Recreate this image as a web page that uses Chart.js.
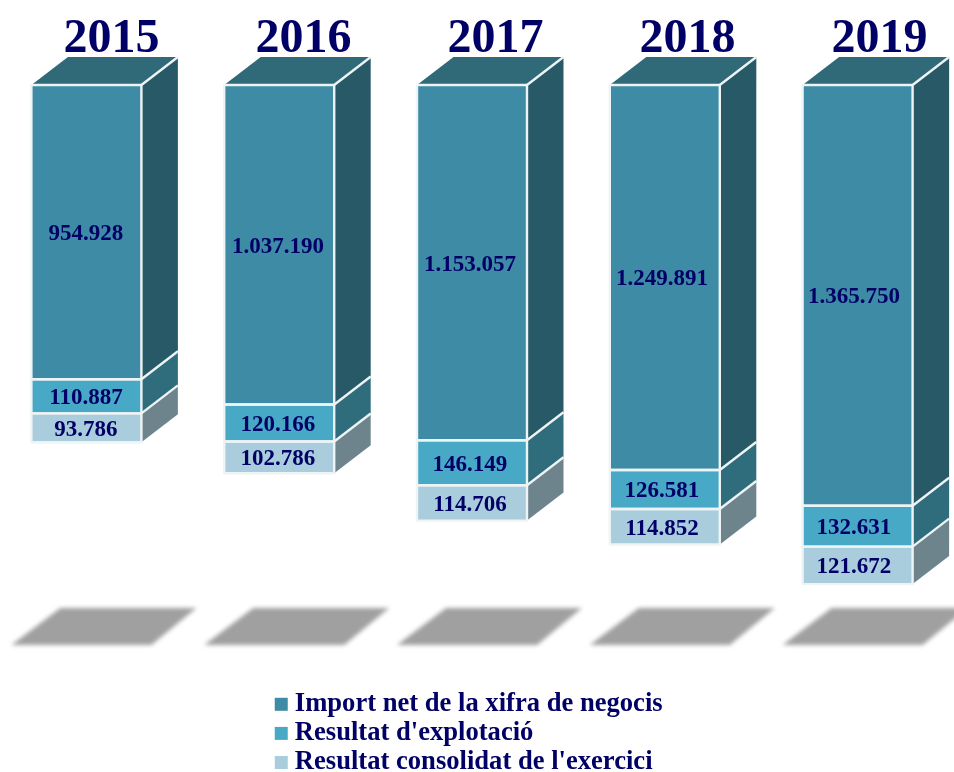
<!DOCTYPE html>
<html>
<head>
<meta charset="utf-8">
<style>html,body{margin:0;padding:0;background:#fff;overflow:hidden;width:954px;height:772px;position:relative}canvas{display:block;position:absolute;left:-10px;top:0}</style>
<script src="https://cdn.jsdelivr.net/npm/chart.js@4"></script>
</head>
<body>
<canvas id="c" width="964" height="772"></canvas>
<script>
const years = ['2015', '2016', '2017', '2018', '2019'];
const importNet = [954928, 1037190, 1153057, 1249891, 1365750];
const resultatExplotacio = [110887, 120166, 146149, 126581, 132631];
const resultatConsolidat = [93786, 102786, 114706, 114852, 121672];
const seriesNames = ["Import net de la xifra de negocis", "Resultat d'explotació", "Resultat consolidat de l'exercici"];
const frontColors = ['#3d8ba5', '#47a9c5', '#a9cddd'];
const sideColors = ['#275a66', '#2f6c7c', '#6e848c'];
const topColor = '#306a78';
const edgeColor = '#eef4f6';
const inkColor = '#000066';
const serif = '"Liberation Serif", serif';
const depth = { x: 36.5, y: -28 };
const shadowBand = [1698000, 1818000];
const textPitch = 192;

const fmt = v => String(v).replace(/\B(?=(\d{3})+$)/g, '.');

const boxes3d = {
  id: 'boxes3d',
  beforeDraw(chart) {
    const items = chart.scales.x.getLabelItems();
    const x0 = items[0].options.translation[0];
    items.forEach((it, i) => { it.options.translation[0] = x0 + textPitch * i; });
  },
  beforeDatasetsDraw(chart) {
    const { ctx } = chart, yS = chart.scales.y;
    const t = yS.getPixelForValue(shadowBand[0]), b = yS.getPixelForValue(shadowBand[1]);
    ctx.save();
    ctx.filter = 'blur(2.2px)';
    ctx.fillStyle = '#a0a0a0';
    chart.getDatasetMeta(0).data.forEach(bar => {
      const l = bar.x - bar.width / 2;
      ctx.beginPath();
      ctx.moveTo(l + 29, t); ctx.lineTo(l + 165, t);
      ctx.lineTo(l + 120, b); ctx.lineTo(l - 20, b);
      ctx.closePath(); ctx.fill();
    });
    ctx.restore();
  },
  afterDatasetsDraw(chart) {
    const { ctx } = chart;
    ctx.save();
    ctx.lineWidth = 2.4;
    ctx.strokeStyle = edgeColor;
    ctx.lineJoin = 'round';
    const poly = (pts, fill) => {
      ctx.beginPath();
      pts.forEach((p, i) => i ? ctx.lineTo(p[0], p[1]) : ctx.moveTo(p[0], p[1]));
      ctx.closePath();
      ctx.fillStyle = fill; ctx.fill();
    };
    const firstX = chart.getDatasetMeta(0).data[0].x;
    chart.data.datasets.forEach((ds, di) => {
      chart.getDatasetMeta(di).data.forEach((bar, i) => {
        const l = bar.x - bar.width / 2, r = bar.x + bar.width / 2;
        const top = Math.min(bar.y, bar.base), bot = Math.max(bar.y, bar.base);
        if (di === 0) {
          poly([[l, top], [l + depth.x, top + depth.y], [r + depth.x, top + depth.y], [r, top]], topColor);
        }
        poly([[r, top], [r + depth.x, top + depth.y], [r + depth.x, bot + depth.y], [r, bot]], sideColors[di]);
        ctx.beginPath();
        ctx.moveTo(r, top); ctx.lineTo(r + depth.x, top + depth.y);
        ctx.stroke();
        ctx.strokeRect(l, top, r - l, bot - top);
        ctx.fillStyle = inkColor;
        ctx.font = 'bold 23px ' + serif;
        ctx.textAlign = 'center';
        ctx.textBaseline = 'middle';
        ctx.fillText(fmt(ds.data[i]), firstX - 0.5 + textPitch * i, (top + bot) / 2 + 2);
      });
    });
    ctx.restore();
  },
  afterLayout(chart) {
    const lg = chart.legend;
    lg.left = 291 - 2.5;
    lg.top = 688.5;
    lg.right = 964;
    lg.bottom = 1000;
    lg.width = 964 - lg.left;
    lg.height = 312;
    lg.draw = function () { this._draw(); };
  }
};

new Chart(document.getElementById('c'), {
  type: 'bar',
  data: {
    labels: years,
    datasets: [importNet, resultatExplotacio, resultatConsolidat].map((d, i) => ({
      label: seriesNames[i],
      data: d,
      backgroundColor: frontColors[i],
      borderWidth: 0,
      barThickness: 110
    }))
  },
  options: {
    responsive: false,
    animation: false,
    scales: {
      x: {
        stacked: true,
        position: 'top',
        grid: { display: false },
        border: { display: false },
        afterFit(s) { s.height = 85; },
        ticks: {
          color: inkColor,
          padding: 9,
          labelOffset: 25,
          maxRotation: 0,
          font: { family: serif, weight: 'bold', size: 48, lineHeight: 1.2 }
        }
      },
      y: { stacked: true, reverse: true, display: false, min: 0, max: 2230000 }
    },
    plugins: {
      tooltip: { enabled: false },
      legend: {
        position: 'chartArea',
        align: 'start',
        labels: {
          color: inkColor,
          boxWidth: 0.5,
          boxHeight: 0.5,
          padding: 2.5,
          font: { family: serif, weight: 'bold', size: 26.6, lineHeight: 1 },
          generateLabels(chart) {
            return chart.data.datasets.map((ds, i) => ({
              text: ds.label, datasetIndex: i,
              fillStyle: ds.backgroundColor, strokeStyle: ds.backgroundColor,
              lineWidth: 12.5, fontColor: inkColor, lineJoin: 'miter'
            }));
          }
        }
      }
    }
  },
  plugins: [boxes3d]
});
</script>
</body>
</html>
